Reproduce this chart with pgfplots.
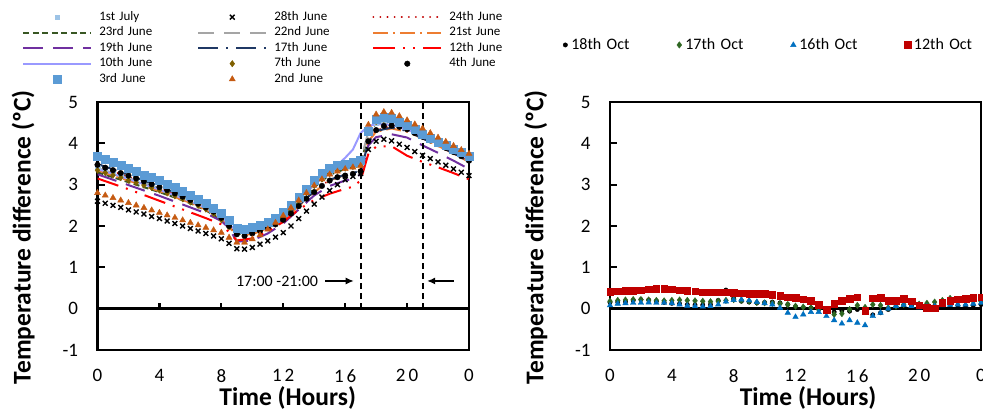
\documentclass[border=0pt]{standalone}
\usepackage{fontspec}
\setmainfont{Carlito}
\usepackage{pgfplots}
\usepackage{pgfplotstable}
\pgfplotsset{compat=1.18}
\usetikzlibrary{arrows.meta}

\definecolor{cJul}{RGB}{157,195,230}
\definecolor{cDkRed}{RGB}{192,0,0}
\definecolor{cGreen}{RGB}{56,87,35}
\definecolor{cGray}{RGB}{165,165,165}
\definecolor{cOrange}{RGB}{237,125,49}
\definecolor{cPurple}{RGB}{112,48,160}
\definecolor{cNavy}{RGB}{31,56,100}
\definecolor{cRed}{RGB}{255,0,0}
\definecolor{cLilac}{RGB}{153,153,255}
\definecolor{cBrown}{RGB}{127,96,0}
\definecolor{cBlue}{RGB}{91,155,213}
\definecolor{cTri}{RGB}{197,90,17}
\definecolor{cOctGreen}{RGB}{46,102,34}
\definecolor{cOctBlue}{RGB}{0,112,192}

% June/July marker series, every 30 min
\pgfplotstableread{
t    jul1 jun28 jun7 jun4 jun3 jun2
0    3.42 2.60 3.35 3.48 3.70 2.80
0.5  3.36 2.55 3.29 3.41 3.62 2.74
1    3.30 2.50 3.23 3.35 3.55 2.68
1.5  3.24 2.45 3.17 3.28 3.47 2.62
2    3.18 2.39 3.11 3.22 3.40 2.56
2.5  3.11 2.34 3.05 3.15 3.32 2.50
3    3.05 2.29 2.99 3.08 3.24 2.44
3.5  2.98 2.23 2.93 3.01 3.17 2.38
4    2.92 2.18 2.87 2.94 3.10 2.32
4.5  2.85 2.12 2.80 2.87 3.01 2.26
5    2.78 2.06 2.73 2.79 2.93 2.20
5.5  2.70 2.00 2.66 2.71 2.84 2.14
6    2.62 1.94 2.58 2.63 2.75 2.08
6.5  2.54 1.88 2.50 2.54 2.65 2.02
7    2.45 1.82 2.41 2.45 2.55 1.96
7.5  2.35 1.76 2.30 2.35 2.44 1.90
8    2.22 1.69 2.15 2.20 2.32 1.84
8.5  2.05 1.58 1.98 2.00 2.15 1.72
9    1.90 1.45 1.82 1.80 1.95 1.60
9.5  1.88 1.44 1.80 1.76 1.92 1.60
10   1.93 1.48 1.86 1.82 1.97 1.68
10.5 2.00 1.56 1.94 1.88 2.02 1.78
11   2.08 1.64 2.03 1.95 2.08 1.92
11.5 2.18 1.73 2.14 2.04 2.20 2.08
12   2.30 1.84 2.27 2.15 2.33 2.25
12.5 2.46 2.00 2.43 2.30 2.50 2.44
13   2.64 2.18 2.61 2.48 2.70 2.62
13.5 2.83 2.36 2.80 2.66 2.90 2.80
14   3.00 2.53 2.98 2.82 3.10 2.98
14.5 3.15 2.70 3.14 2.97 3.28 3.13
15   3.28 2.86 3.27 3.10 3.40 3.25
15.5 3.36 3.00 3.35 3.18 3.46 3.32
16   3.42 3.12 3.40 3.22 3.50 3.38
16.5 3.47 3.20 3.44 3.26 3.55 3.42
17   3.52 3.27 3.48 3.32 3.60 3.46
17.5 4.25 3.85 4.30 4.05 4.30 4.45
18   4.50 4.05 4.53 4.32 4.58 4.70
18.5 4.56 4.10 4.58 4.42 4.63 4.76
19   4.55 4.06 4.57 4.43 4.60 4.74
19.5 4.49 3.98 4.50 4.40 4.52 4.66
20   4.41 3.90 4.42 4.34 4.43 4.56
20.5 4.32 3.80 4.32 4.25 4.33 4.46
21   4.22 3.71 4.22 4.16 4.23 4.36
21.5 4.12 3.63 4.12 4.07 4.12 4.25
22   4.02 3.55 4.02 3.98 4.02 4.14
22.5 3.93 3.47 3.92 3.89 3.95 4.04
23   3.84 3.38 3.83 3.79 3.87 3.94
23.5 3.75 3.30 3.74 3.69 3.78 3.84
24   3.66 3.22 3.65 3.58 3.70 3.75
}\junemarks

% June line series, hourly (plus the evening step)
\pgfplotstableread{
t     jun24 jun23 jun22 jun21 jun19 jun17 jun12 jun10
0     3.45  3.30  3.40  3.35  3.25  3.50  3.15  3.38
1     3.32  3.18  3.28  3.22  3.12  3.37  3.02  3.26
2     3.19  3.06  3.16  3.10  2.99  3.24  2.89  3.14
3     3.06  2.94  3.04  2.97  2.86  3.10  2.75  3.01
4     2.92  2.82  2.91  2.84  2.73  2.96  2.61  2.88
5     2.78  2.69  2.78  2.70  2.59  2.81  2.47  2.74
6     2.63  2.55  2.63  2.56  2.45  2.65  2.33  2.60
7     2.45  2.38  2.46  2.40  2.31  2.47  2.19  2.43
8     2.22  2.15  2.24  2.18  2.12  2.25  2.04  2.22
8.5   2.02  1.97  2.05  1.98  1.95  2.04  1.85  2.04
9     1.82  1.80  1.88  1.78  1.62  1.84  1.65  1.88
10    1.82  1.84  1.92  1.80  1.65  1.84  1.70  1.92
11    1.96  2.00  2.07  1.95  1.82  1.97  1.87  2.07
12    2.16  2.24  2.30  2.15  2.06  2.17  2.10  2.30
13    2.50  2.58  2.64  2.48  2.40  2.50  2.40  2.64
14    2.84  2.94  2.99  2.82  2.74  2.84  2.63  3.00
15    3.12  3.24  3.28  3.10  2.97  3.12  2.78  3.30
16    3.24  3.38  3.45  3.24  3.10  3.24  2.90  3.65
16.5  3.28  3.42  3.55  3.30  3.14  3.28  2.95  3.85
17    3.34  3.46  3.58  3.38  3.25  3.34  3.10  4.25
17.5  4.05  4.25  4.28  4.05  3.95  4.02  3.75  4.42
18    4.32  4.48  4.50  4.28  4.15  4.30  3.92  4.46
19    4.42  4.52  4.52  4.36  4.22  4.38  3.93  4.45
20    4.33  4.38  4.40  4.28  4.14  4.30  3.70  4.33
21    4.15  4.18  4.21  4.12  3.95  4.12  3.55  4.18
22    3.97  3.99  4.02  3.94  3.77  3.94  3.42  4.00
23    3.78  3.81  3.84  3.75  3.58  3.76  3.28  3.81
24    3.57  3.63  3.66  3.55  3.38  3.56  3.13  3.62
}\junelines

% October series, every 30 min
\pgfplotstableread{
t    oct18 oct17 oct16 oct12
0    0.15  0.18  0.08  0.41
0.5  0.16  0.20  0.12  0.42
1    0.17  0.21  0.13  0.43
1.5  0.20  0.22  0.14  0.44
2    0.22  0.22  0.14  0.45
2.5  0.21  0.21  0.15  0.47
3    0.18  0.20  0.14  0.48
3.5  0.15  0.19  0.14  0.48
4    0.13  0.20  0.13  0.47
4.5  0.12  0.21  0.10  0.45
5    0.10  0.20  0.07  0.44
5.5  0.09  0.19  0.06  0.42
6    0.09  0.18  0.05  0.40
6.5  0.10  0.17  0.06  0.40
7    0.20  0.18  0.10  0.40
7.5  0.45  0.20  0.17  0.40
8    0.25  0.22  0.21  0.38
8.5  0.18  0.20  0.22  0.37
9    0.16  0.18  0.20  0.36
9.5  0.14  0.15  0.16  0.36
10   0.15  0.14  0.13  0.36
10.5 0.16  0.13  0.10  0.34
11   0.14  0.12  0.02  0.31
11.5 0.10  0.10  -0.10 0.28
12   0.05  0.06  -0.20 0.26
12.5 0.02  0.04  -0.14 0.23
13   0.02  0.02  -0.08 0.20
13.5 0.00  -0.02 -0.08 0.10
14   -0.05 -0.06 -0.18 -0.03
14.5 -0.08 -0.14 -0.28 0.12
15   -0.05 -0.12 -0.36 0.20
15.5 -0.06 -0.02 -0.28 0.24
16   -0.02 0.08  -0.34 0.28
16.5 -0.08 0.03  -0.40 -0.05
17   -0.15 0.10  -0.18 0.25
17.5 -0.10 0.08  -0.10 0.26
18   -0.02 0.02  0.00  0.20
18.5 0.04  0.06  0.06  0.20
19   0.06  0.10  0.09  0.24
19.5 0.07  0.10  0.06  0.18
20   0.08  0.11  0.03  0.08
20.5 0.06  0.13  0.05  0.02
21   0.06  0.16  0.06  0.01
21.5 0.08  0.20  0.08  0.15
22   0.09  0.25  0.09  0.20
22.5 0.08  0.22  0.10  0.23
23   0.07  0.18  0.10  0.24
23.5 0.08  0.18  0.12  0.26
24   0.10  0.18  0.14  0.28
}\octdata

\pgfplotsset{
  panel/.style={
    scale only axis, height=248pt,
    xmin=0, xmax=24, ymin=-1, ymax=5,
    xtick={0,4,...,24}, ytick={-1,0,...,5},
    xticklabels={0,4,8,1\kern3pt2,1\kern3pt6,2\kern3pt0,0},
    axis line style={line width=2.6pt, line cap=rect},
    tick align=inside, major tick length=7pt,
    ytick pos=left, xtick pos=bottom,
    major y tick style={line width=2.2pt, black},
    major x tick style={draw=none},
    /pgf/number format/assume math mode=true,
    tick label style={font=\fontsize{19}{19}\selectfont, black},
    xticklabel style={yshift=-16pt},
    yticklabel style={xshift=-16pt},
    xlabel={Time (Hours)},
    ylabel={Temperature difference (ºC)},
    every axis y label/.style={at={(axis description cs:-0.2,0.455)}, rotate=90, anchor=center,
      font=\fontsize{25.5}{25.5}\selectfont\bfseries},
    every axis x label/.style={at={(axis description cs:0.512,-0.192)}, anchor=center,
      font=\fontsize{25.5}{25.5}\selectfont\bfseries},
  },
}

\begin{document}
\begin{tikzpicture}[x=1pt,y=1pt]
\useasboundingbox (0,0) rectangle (983,410);

% ---------- June / July ----------
\begin{axis}[panel, at={(97.5pt,60pt)}, anchor=south west, width=371.5pt,
  legend columns=3, legend cell align=left,
  legend image code/.code={%
    \pgfpathrectangle{\pgfpoint{0pt}{-4pt}}{\pgfpoint{68pt}{8pt}}\pgfusepath{}%
    \draw[mark repeat=2,mark phase=2,#1] plot coordinates {(0pt,0pt) (34pt,0pt) (68pt,0pt)};},
  legend style={at={(axis description cs:-0.203,1.371)}, anchor=north west, draw=none, fill=none,
    inner sep=0pt, row sep=1.5pt, font=\fontsize{13}{13}\selectfont,
    nodes={inner sep=1pt, text height=9pt, text depth=3pt, text width=56pt, align=left},
    /tikz/every odd column/.append style={column sep=6pt},
    /tikz/every even column/.append style={column sep=41pt}},
]
\draw[line width=3pt] (axis cs:0,0) -- (axis cs:24,0);
\pgfplotsinvokeforeach{4,8,12,16,20}{\draw[line width=2.2pt] (axis cs:#1,0) -- ++(0pt,6pt);}

\addplot[only marks, mark=square*, mark size=2.2pt, color=cJul] table[x=t,y=jul1] {\junemarks};
\addlegendentry{1st July}
\addplot[only marks, mark=x, mark size=3.4pt, mark options={line width=1.4pt}, color=black] table[x=t,y=jun28] {\junemarks};
\addlegendentry{28th June}
\addplot[cDkRed, line width=2pt, line cap=round, dash pattern=on 0.1pt off 7pt] table[x=t,y=jun24] {\junelines};
\addlegendentry{24th June}
\addplot[cGreen, line width=2pt, dash pattern=on 6pt off 3.5pt] table[x=t,y=jun23] {\junelines};
\addlegendentry{23rd June}
\addplot[cGray, line width=2pt, dash pattern=on 16pt off 10pt] table[x=t,y=jun22] {\junelines};
\addlegendentry{22nd June}
\addplot[cOrange, line width=2pt, dash pattern=on 15pt off 5pt on 2pt off 5pt] table[x=t,y=jun21] {\junelines};
\addlegendentry{21st June}
\addplot[cPurple, line width=2pt, dash pattern=on 20pt off 10pt] table[x=t,y=jun19] {\junelines};
\addlegendentry{19th June}
\addplot[cNavy, line width=2pt, dash pattern=on 20pt off 8pt on 2pt off 8pt] table[x=t,y=jun17] {\junelines};
\addlegendentry{17th June}
\addplot[cRed, line width=2pt, dash pattern=on 22pt off 8pt on 2pt off 8pt on 2pt off 8pt] table[x=t,y=jun12] {\junelines};
\addlegendentry{12th June}
\addplot[cLilac, line width=2pt] table[x=t,y=jun10] {\junelines};
\addlegendentry{10th June}
\addplot[only marks, mark=diamond*, mark size=3.2pt, color=cBrown] table[x=t,y=jun7] {\junemarks};
\addlegendentry{7th June}
\addplot[only marks, mark=*, mark size=2.8pt, color=black] table[x=t,y=jun4] {\junemarks};
\addlegendentry{4th June}
\addplot[only marks, mark=square*, mark size=4pt, color=cBlue] table[x=t,y=jun3] {\junemarks};
\addlegendentry{3rd June}
\addplot[only marks, mark=triangle*, mark size=3.5pt, color=cTri] table[x=t,y=jun2] {\junemarks};
\addlegendentry{2nd June}

\draw[line width=2pt, dash pattern=on 6pt off 4pt] (axis cs:17,0) -- (axis cs:17,5);
\draw[line width=2pt, dash pattern=on 6pt off 4pt] (axis cs:21,0) -- (axis cs:21,5);
\node[font=\fontsize{16}{16}\selectfont, anchor=center] at (axis cs:11.6,0.67) {17:00 -21:00};
\draw[-{Latex[length=8pt,width=7pt]}, line width=1.2pt] (axis cs:14.7,0.67) -- (axis cs:16.55,0.67);
\draw[-{Latex[length=8pt,width=7pt]}, line width=1.2pt] (axis cs:23.0,0.67) -- (axis cs:21.3,0.67);
\end{axis}

% ---------- October ----------
\begin{axis}[panel, at={(610pt,60pt)}, anchor=south west, width=371pt,
  every axis x label/.append style={at={(axis description cs:0.534,-0.192)}},
  legend columns=4,
  legend image code/.code={%
    \pgfpathrectangle{\pgfpoint{0pt}{-3pt}}{\pgfpoint{6pt}{6pt}}\pgfusepath{}%
    \draw[#1] plot coordinates {(3pt,0pt)};},
  legend style={at={(axis description cs:-0.129,1.23)}, anchor=west, draw=none, fill=none,
    inner sep=0pt, font=\fontsize{16}{16}\selectfont,
    nodes={inner sep=3pt, text width=60pt, align=left},
    /tikz/every odd column/.append style={column sep=0pt},
    /tikz/every even column/.append style={column sep=42pt}},
]
\draw[line width=3pt] (axis cs:0,0) -- (axis cs:24,0);

\addplot[only marks, mark=*, mark size=2.2pt, color=black] table[x=t,y=oct18] {\octdata};
\addlegendentry{18th Oct}
\addplot[only marks, mark=diamond*, mark size=3.2pt, color=cOctGreen] table[x=t,y=oct17] {\octdata};
\addlegendentry{17th Oct}
\addplot[only marks, mark=triangle*, mark size=3.2pt, color=cOctBlue] table[x=t,y=oct16] {\octdata};
\addlegendentry{16th Oct}
\addplot[only marks, mark=square*, mark size=3.3pt, color=cDkRed] table[x=t,y=oct12] {\octdata};
\addlegendentry{12th Oct}
\end{axis}
\end{tikzpicture}
\end{document}
